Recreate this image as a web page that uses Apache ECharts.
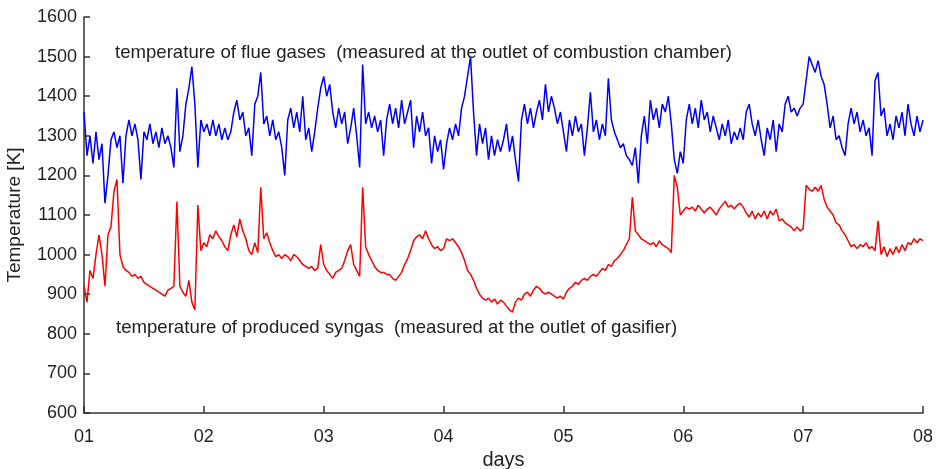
<!DOCTYPE html>
<html>
<head>
<meta charset="utf-8">
<script src="https://cdn.jsdelivr.net/npm/echarts@6/dist/echarts.min.js"></script>
<style>
  html, body { margin: 0; padding: 0; background: #ffffff; }
  #chart { width: 938px; height: 469px; }
</style>
</head>
<body>
<div id="chart"></div>
<script>
// Tick labels and axis ranges
const dayTicks = ['01', '02', '03', '04', '05', '06', '07', '08'];
const yTicks = [600, 700, 800, 900, 1000, 1100, 1200, 1300, 1400, 1500, 1600];

// Samples are taken every 1/40 day, starting at day 01
const sampleStartDay = 1;
const samplesPerDay = 40;

// Temperature of flue gases [K] (blue)
const flueGas = [
  1360,1250,1300,1230,1310,1240,1280,1130,1200,1290,
  1310,1270,1300,1180,1300,1340,1300,1330,1290,1190,
  1310,1290,1330,1280,1310,1270,1320,1280,1300,1270,
  1220,1420,1260,1300,1380,1420,1475,1380,1220,1340,
  1310,1330,1300,1340,1300,1330,1290,
  1320,1290,1310,1360,1390,1340,1360,1300,1320,1250,
  1380,1400,1460,1330,1350,1300,1340,1290,1310,1270,
  1200,1340,1370,1320,1360,1310,1400,1290,1320,1260,
  1310,1370,1420,1450,
  1400,1430,1360,1320,1370,1330,1360,1280,1320,1370,
  1300,1220,1480,1330,1360,1320,1350,1310,1340,1250,
  1340,1380,1330,1370,1320,1390,1330,1360,1390,1270,
  1350,1310,1360,1300,1320,1230,1300,1260,1290,1215,
  1280,1320,1290,1330,1300,1370,1400,1450,1500,1360,
  1250,1330,1280,1320,1240,1300,1250,1290,1260,1290,
  1330,1260,1300,1240,1185,1340,1380,1330,1370,1320,
  1360,1390,1340,1430,1360,1400,1370,1330,1360,1310,
  1260,1340,1300,1350,1310,1330,1250,1320,1410,1310,
  1340,1290,1330,1300,1445,1340,1310,1290,1270,1280,
  1250,1240,1225,1270,1180,1300,1350,1280,1390,1340,
  1370,1320,1380,1360,1400,1330,1240,1205,1260,1230,
  1340,1380,1330,1370,1320,1390,1340,1360,1310,1350,
  1320,1290,1330,1300,1340,1280,1310,1290,1320,1290,
  1360,1380,1330,1300,1340,1290,1250,1320,1290,1340,
  1260,1330,1310,1380,1400,1360,1370,1350,1370,1380,
  1440,1500,1480,1460,1490,1450,1430,1380,1320,1350,
  1290,1300,1270,1250,1330,1370,1330,1360,1310,1340,
  1300,1320,1250,1440,1460,1350,1370,1300,1330,1290,
  1350,1320,1360,1300,1380,1330,1300,1350,1310,1340
];

// Temperature of produced syngas [K] (red)
const syngas = [
  920,880,960,940,1000,1050,1000,920,1050,1070,
  1160,1190,1000,970,960,955,945,950,940,945,
  930,925,920,915,910,905,900,895,910,915,
  920,1134,920,905,895,935,880,860,1125,1010,
  1030,1020,1050,1040,1060,1045,1035,
  1020,1010,1050,1075,1045,1090,1060,1040,1010,1000,
  1030,1005,1170,1040,1055,1030,1010,995,1000,990,
  1000,995,985,1000,995,985,975,970,965,970,
  960,965,1025,975,
  960,950,940,955,960,965,985,1010,1025,975,
  960,945,1170,1020,1000,985,970,960,955,955,
  950,950,940,935,945,955,975,990,1010,1035,
  1045,1050,1040,1060,1040,1025,1015,1020,1010,1015,
  1040,1035,1040,1030,1020,1005,985,960,950,935,
  915,900,890,885,890,880,888,875,885,880,
  870,860,855,880,890,885,900,905,895,910,
  920,915,905,900,905,900,895,890,895,888,
  905,915,920,930,925,935,940,935,945,950,
  945,955,965,960,975,970,985,990,1000,1010,
  1025,1040,1145,1060,1050,1040,1035,1030,1025,1030,
  1020,1035,1025,1020,1015,1005,1200,1170,1100,1110,
  1120,1115,1120,1110,1125,1115,1105,1115,1120,1110,
  1100,1115,1125,1135,1120,1125,1115,1125,1130,1120,
  1105,1095,1110,1090,1105,1095,1110,1090,1110,1100,
  1115,1085,1090,1080,1075,1070,1060,1070,1060,1065,
  1175,1165,1160,1170,1160,1175,1140,1120,1110,1100,
  1080,1075,1060,1050,1035,1020,1025,1015,1025,1020,
  1030,1015,1020,1010,1085,1000,1020,995,1015,1000,
  1020,1005,1025,1010,1030,1025,1040,1030,1040,1035
];

const annotationFlue = 'temperature of flue gases  (measured at the outlet of combustion chamber)';
const annotationSyngas = 'temperature of produced syngas  (measured at the outlet of gasifier)';

function toPairs(values) {
  return values.map(function (v, i) { return [sampleStartDay + i / samplesPerDay, v]; });
}

const FONT = '"Liberation Sans", Arial, Helvetica, sans-serif';
const chart = echarts.init(document.getElementById('chart'), null, { renderer: 'canvas' });

chart.setOption({
  animation: false,
  backgroundColor: '#ffffff',
  grid: { left: 84, right: 15, top: 17, bottom: 56, containLabel: false, outerBoundsMode: 'none' },
  xAxis: {
    type: 'value',
    min: 1,
    max: 8,
    interval: 1,
    name: 'days',
    nameLocation: 'middle',
    nameGap: 29,
    nameTextStyle: { fontFamily: FONT, fontSize: 20, color: '#222' },
    axisLine: { show: true, lineStyle: { color: '#333', width: 1.5 } },
    axisTick: { show: true, inside: true, length: 7, lineStyle: { color: '#333', width: 1.5 } },
    axisLabel: {
      fontFamily: FONT, fontSize: 18, color: '#222', margin: 15,
      formatter: function (v) { return dayTicks[Math.round(v) - 1]; }
    },
    splitLine: { show: false }
  },
  yAxis: {
    type: 'value',
    min: yTicks[0],
    max: yTicks[yTicks.length - 1],
    interval: 100,
    name: 'Temperature [K]',
    nameLocation: 'middle',
    nameGap: 60,
    nameTextStyle: { fontFamily: FONT, fontSize: 19, color: '#222' },
    axisLine: { show: true, lineStyle: { color: '#333', width: 1.5 } },
    axisTick: { show: true, inside: true, length: 6, lineStyle: { color: '#333', width: 1.5 } },
    axisLabel: {
      fontFamily: FONT, fontSize: 18, color: '#222', margin: 7,
      formatter: function (v) { return String(v); }
    },
    splitLine: { show: false }
  },
  graphic: [
    {
      type: 'text', left: 115, top: 43, silent: true,
      style: { text: annotationFlue, font: '18.6px ' + FONT, fill: '#222' }
    },
    {
      type: 'text', left: 116, top: 318, silent: true,
      style: { text: annotationSyngas, font: '18.6px ' + FONT, fill: '#222' }
    }
  ],
  series: [
    {
      name: 'flue gases',
      type: 'line',
      data: toPairs(flueGas),
      showSymbol: false,
      symbol: 'none',
      lineStyle: { color: '#0000ff', width: 1.5 },
      itemStyle: { color: '#0000ff' },
      z: 3
    },
    {
      name: 'syngas',
      type: 'line',
      data: toPairs(syngas),
      showSymbol: false,
      symbol: 'none',
      lineStyle: { color: '#ff0000', width: 1.5 },
      itemStyle: { color: '#ff0000' },
      z: 2
    }
  ]
});
</script>
</body>
</html>
